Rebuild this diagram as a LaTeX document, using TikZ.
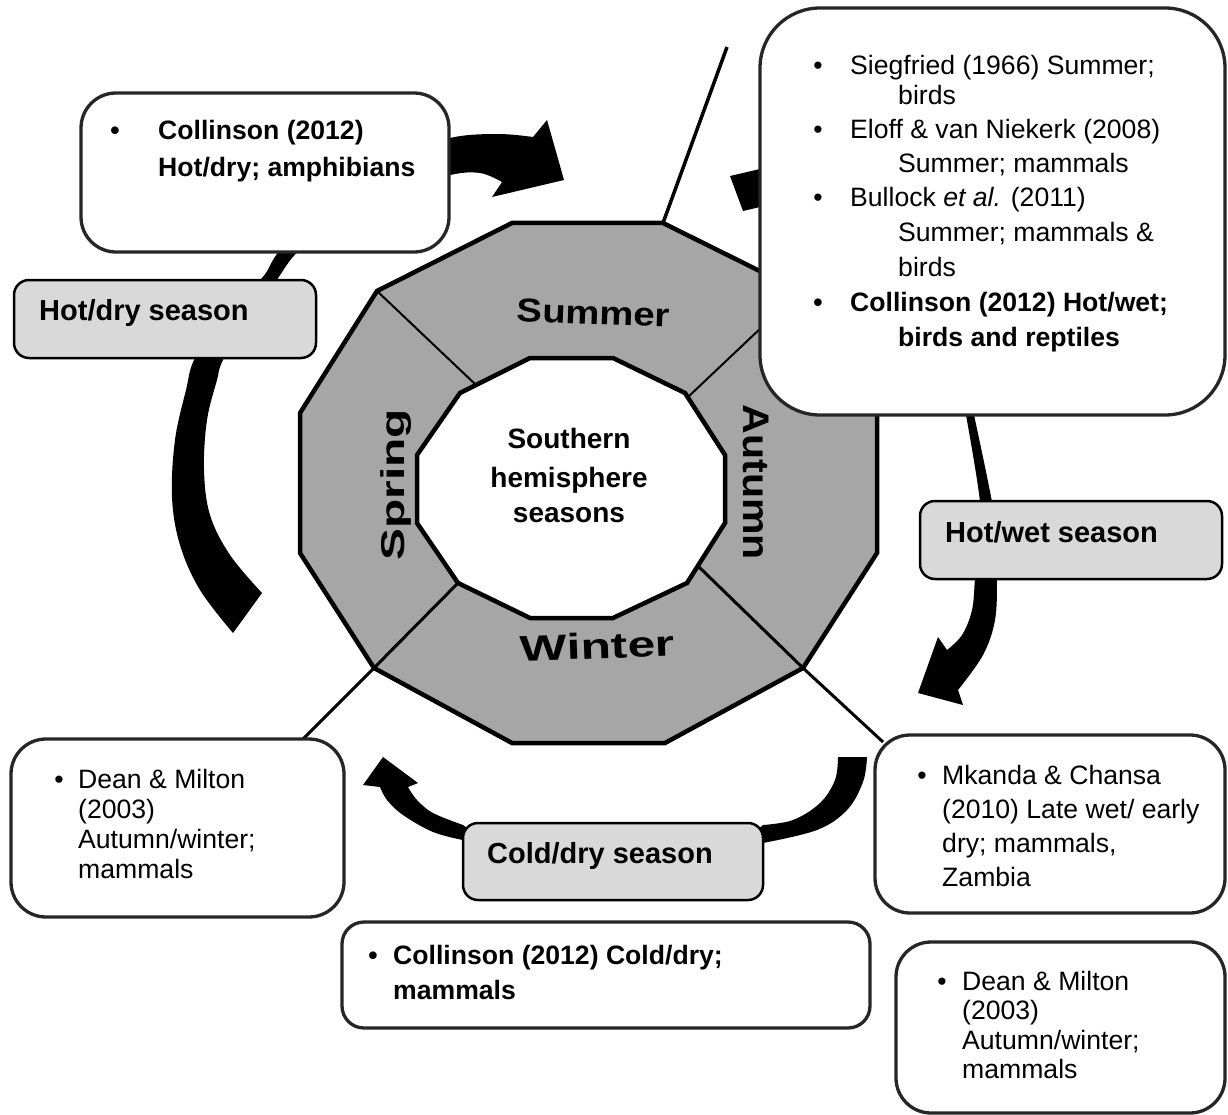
\documentclass[tikz,border=0pt]{standalone}
\usepackage{fontspec}
\setmainfont{Liberation Sans}
\definecolor{ringgray}{RGB}{166,166,166}
\definecolor{seasongray}{RGB}{217,217,217}
\definecolor{boxedge}{RGB}{38,38,38}

\tikzset{
  refbox/.style={draw=boxedge, line width=3.3pt, fill=white, inner sep=0pt, rounded corners=35pt},
  seasonbox/.style={draw=black, line width=2.5pt, fill=seasongray, inner sep=0pt, rounded corners=15pt},
  txt/.style={anchor=base west, inner sep=0pt, font=\fontsize{26.6}{30}\selectfont},
  btxt/.style={txt, font=\fontsize{26.6}{30}\selectfont\bfseries},
  bul/.style={anchor=base, inner sep=0pt, font=\fontsize{26.6}{30}\selectfont},
  stxt/.style={anchor=base west, inner sep=0pt, font=\fontsize{29}{34}\selectfont\bfseries},
  ringlabel/.style={inner sep=0pt},
  ctxt/.style={anchor=base, inner sep=0pt, font=\fontsize{28}{34}\selectfont\bfseries},
  thindiv/.style={line width=2pt, black},
  thickdiv/.style={line width=3pt, black},
  ringedge/.style={line width=4.5pt, black, line join=miter},
}

\begin{document}
\begin{tikzpicture}[x=1pt,y=-1pt]
\useasboundingbox (0,0) rectangle (1228,1115);

% ---------- block arrows (drawn first, boxes sit on top) ----------
% hot/dry season arrow: rises on the left and points toward summer
\fill[black]
  plot[smooth,tension=0.6] coordinates {(233,633) (200,590) (180,545) (172,497) (175,440) (186,390) (195,358) (225,312) (262,278) (280,250) (330,195) (390,158) (450,138) (497,134) (533,137)}
  -- (547,120) -- (564,180) -- (492,197) -- (502,182)
  -- plot[smooth,tension=0.6] coordinates {(502,182) (480,173) (450,175) (400,190) (350,220) (300,250) (275,282) (250,310) (223,360) (217,380) (207,420) (204,470) (210,515) (230,555) (262,593)}
  -- cycle;

% hot/wet season arrow: from summer round the right side, down toward winter
\fill[black]
  (743,211) -- (730,176) -- (760,169) -- (850,180) -- (950,260) -- (974,415)
  -- plot[smooth,tension=0.6] coordinates {(974,415) (992,502) (996,540) (997,578) (995,620) (983,655) (958,690)}
  -- (963,705) -- (918,693) -- (938,637) -- (947,650)
  -- plot[smooth,tension=0.6] coordinates {(947,650) (962,635) (972,610) (975,578) (978,540) (980,502) (966,415)}
  -- (935,290) -- (840,222) -- (760,207) -- cycle;

% cold/dry season arrow: under winter, pointing up toward spring
\fill[black]
  (838,757) -- (867,757)
  -- plot[smooth,tension=0.6] coordinates {(867,757) (863,782) (847,810) (817,830) (763,843)}
  -- (740,862) -- (490,862) -- (463,840)
  -- plot[smooth,tension=0.6] coordinates {(463,840) (433,832) (403,815) (387,800) (380,787)}
  -- (363,785) -- (383,757) -- (418,783) -- (408,787)
  -- plot[smooth,tension=0.6] coordinates {(408,787) (417,800) (433,813) (463,825)}
  -- (490,845) -- (740,845)
  -- plot[smooth,tension=0.6] coordinates {(763,825) (793,820) (820,803) (835,780) (838,757)}
  -- cycle;

% ---------- season ring ----------
\coordinate (o1) at (512,223);  \coordinate (o2) at (663,223);
\coordinate (o3) at (800,291);  \coordinate (o4) at (877,413);
\coordinate (o5) at (877,553);  \coordinate (o6) at (803,668);
\coordinate (o7) at (665,743);  \coordinate (o8) at (512,743);
\coordinate (o9) at (374,668);  \coordinate (o10) at (300,553);
\coordinate (o11) at (300,413); \coordinate (o12) at (377,291);

\coordinate (i1) at (530,358);  \coordinate (i2) at (613,358);
\coordinate (i3) at (685,393);  \coordinate (i4) at (725,455);
\coordinate (i5) at (725,523);  \coordinate (i6) at (687,583);
\coordinate (i7) at (613,618);  \coordinate (i8) at (530,618);
\coordinate (i9) at (458,583);  \coordinate (i10) at (417,523);
\coordinate (i11) at (417,455); \coordinate (i12) at (460,393);

\filldraw[ringedge, fill=ringgray] (o1) -- (o2) -- (o3) -- (o4) -- (o5) -- (o6) -- (o7) -- (o8) -- (o9) -- (o10) -- (o11) -- (o12) -- cycle;

% dividers between the seasons
\coordinate (dSpS) at (475,384);
\coordinate (dSuA) at (688,397);
\coordinate (dAW)  at (698,566);
\draw[thindiv] (o12) -- (dSpS);
\draw[thindiv] (dSuA) -- (o3);
\coordinate (mkTop) at (883,742);
\coordinate (dmTop) at (300,742);
\coordinate (topEnd) at (727,47);
\draw[thickdiv] (dAW) -- (o6) -- (mkTop);
\draw[thickdiv] (i9) -- (o9) -- (dmTop);
\draw[line width=3.5pt] (o2) -- (topEnd);

\filldraw[ringedge, fill=white] (i1) -- (i2) -- (i3) -- (i4) -- (i5) -- (i6) -- (i7) -- (i8) -- (i9) -- (i10) -- (i11) -- (i12) -- cycle;

% season names
\node[ringlabel, rotate=-2] (summer) at (593.5,313)
  {\fontsize{33}{38}\selectfont\bfseries\scalebox{1.16}[1]{Summer}};
\node[ringlabel, rotate=2] (winter) at (597.5,646)
  {\fontsize{36}{40}\selectfont\bfseries\scalebox{1.38}[1]{Winter}};
\node[ringlabel, rotate=-90] (autumn) at (756,482.5)
  {\fontsize{37}{40}\selectfont\bfseries\scalebox{1.11}[1]{Autumn}};
\node[ringlabel, rotate=90] (spring) at (396.5,485)
  {\fontsize{33}{38}\selectfont\bfseries\scalebox{1.45}[1]{Spring}};

\node[ctxt] (cen1) at (569,448) {Southern};
\node[ctxt] (cen2) at (569,487) {hemisphere};
\node[ctxt] (cen3) at (569,522) {seasons};

% ---------- reference boxes ----------
\node[refbox, rounded corners=60pt, minimum width=465pt, minimum height=407pt] (bigbox) at (992.5,211.5) {};
\node[bul] (b1) at (818,74.5) {•};
\node[txt] (t1) at (850,74.5) {Siegfried (1966) Summer;};
\node[txt] (t1b) at (898,104.5) {birds};
\node[bul] (b2) at (818,138.5) {•};
\node[txt] (t2) at (850,138.5) {Eloff \& van Niekerk (2008)};
\node[txt] (t2b) at (898,172.5) {Summer; mammals};
\node[bul] (b3) at (818,206.5) {•};
\node[txt] (t3) at (850,206.5) {Bullock \textit{et al.} (2011)};
\node[txt] (t3b) at (898,241.5) {Summer; mammals \&};
\node[txt] (t3c) at (898,276.5) {birds};
\node[bul] (b4) at (818,311.5) {\bfseries •};
\node[btxt] (t4) at (850,311.5) {Collinson (2012) Hot/wet;};
\node[btxt] (t4b) at (898,346.5) {birds and reptiles};

\node[refbox, minimum width=368pt, minimum height=159pt] (colhd) at (265,172.5) {};
\node[bul] (cb) at (115,139.5) {\bfseries •};
\node[btxt] (c1) at (158,139.5) {Collinson (2012)};
\node[btxt] (c2) at (158,176.5) {Hot/dry; amphibians};

\node[refbox, minimum width=333pt, minimum height=178pt] (deanL) at (177.5,828) {};
\node[bul] (dlb) at (59,788) {•};
\node[txt] (dl1) at (78,788) {Dean \& Milton};
\node[txt] (dl2) at (78,818) {(2003)};
\node[txt] (dl3) at (78,848) {Autumn/winter;};
\node[txt] (dl4) at (78,878) {mammals};

\node[refbox, minimum width=350pt, minimum height=178pt] (mkanda) at (1050,824) {};
\node[bul] (mkb) at (922,784) {•};
\node[txt] (mk1) at (942,784) {Mkanda \& Chansa};
\node[txt] (mk2) at (942,818) {(2010) Late wet/ early};
\node[txt] (mk3) at (942,852) {dry; mammals,};
\node[txt] (mk4) at (942,886) {Zambia};

\node[refbox, rounded corners=22pt, minimum width=528pt, minimum height=106pt] (colcd) at (606,975) {};
\node[bul] (ccb) at (373,964.5) {\bfseries •};
\node[btxt] (cc1) at (393,964.5) {Collinson (2012) Cold/dry;};
\node[btxt] (cc2) at (393,999.5) {mammals};

\node[refbox, minimum width=329pt, minimum height=171pt] (deanR) at (1060.5,1027.5) {};
\node[bul] (drb) at (942,990) {•};
\node[txt] (dr1) at (962,990) {Dean \& Milton};
\node[txt] (dr2) at (962,1019.5) {(2003)};
\node[txt] (dr3) at (962,1049) {Autumn/winter;};
\node[txt] (dr4) at (962,1078.5) {mammals};

% ---------- season boxes ----------
\node[seasonbox, minimum width=302pt, minimum height=78pt] (hotdry) at (165,319) {};
\node[stxt] (hdt) at (39,320.4) {Hot/dry season};
\node[seasonbox, minimum width=302pt, minimum height=78pt] (hotwet) at (1071,540) {};
\node[stxt] (hwt) at (945,542.4) {Hot/wet season};
\node[seasonbox, minimum width=300pt, minimum height=77pt] (colddry) at (613,861.5) {};
\node[stxt] (cdt) at (487,863.4) {Cold/dry season};

\end{tikzpicture}
\end{document}
